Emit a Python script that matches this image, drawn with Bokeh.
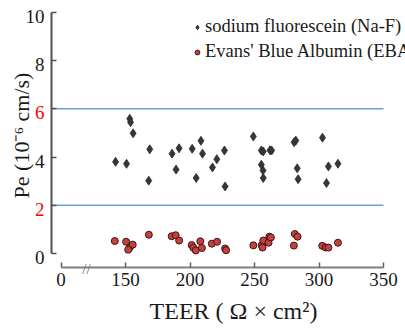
import math
from bokeh.plotting import figure
from bokeh.models import (FixedTicker, Label, LabelSet, ColumnDataSource,
                          Legend, LegendItem)
from bokeh.embed import file_html
from bokeh.resources import INLINE

# ---- data ----
naf_teer = [142.3, 150.8, 153.3, 153.9, 155.9, 168.8, 168.0, 186.1, 191.5, 189.2,
            201.7, 208.5, 209.7, 204.8, 220.8, 217.4, 226.7, 227.2, 249.1, 255.3,
            256.8, 262.0, 263.3, 255.3, 256.6, 256.8, 280.7, 282.0, 283.1, 283.8,
            302.7, 307.3, 314.7, 305.8]
naf_pe = [3.80, 3.72, 5.58, 5.44, 4.98, 4.32, 3.02, 4.14, 4.36, 3.48,
          4.34, 4.67, 4.14, 3.13, 3.91, 3.57, 4.27, 2.78, 4.85, 4.27,
          4.23, 4.28, 4.27, 3.68, 3.44, 3.13, 4.61, 4.68, 3.53, 3.08,
          4.80, 3.61, 3.72, 2.92]

eba_teer = [141.7, 150.5, 153.3, 155.6, 152.1, 168.1, 185.8, 188.9, 191.6, 201.3,
            202.6, 204.5, 208.0, 209.2, 216.9, 221.0, 227.2, 228.0, 249.1, 255.6,
            256.8, 256.2, 260.9, 261.5, 262.7, 281.3, 283.4, 280.5, 302.5, 305.2,
            307.3, 314.7]
eba_pe = [0.52, 0.49, 0.25, 0.37, 0.16, 0.78, 0.72, 0.76, 0.54, 0.35,
          0.24, 0.13, 0.51, 0.23, 0.41, 0.49, 0.21, 0.14, 0.34, 0.35,
          0.54, 0.25, 0.45, 0.70, 0.67, 0.81, 0.70, 0.33, 0.32, 0.25,
          0.25, 0.45]

threshold_lines = [6, 2]

x_tick_values = [100, 150, 200, 250, 300, 350]
x_tick_labels = ["0", "150", "200", "250", "300", "350"]
y_tick_values = [0, 2, 4, 6, 8, 10]
y_tick_labels = ["0", "2", "4", "6", "8", "10"]
y_tick_colors = ["#1a1a1a", "#ff0000", "#1a1a1a", "#ff0000", "#1a1a1a", "#1a1a1a"]

series_names = ["sodium fluorescein (Na-F)", "Evans' Blue Albumin (EBA)"]
x_title = "TEER ( \u03a9 \u00d7 cm\u00b2)"
y_title = "Pe (10\u207b\u2076 cm/s)"

SERIF = "Liberation Serif"
W, H = 405, 332

# axes positions inside the (full-canvas) frame
Y_AXIS_AT = 92.64      # x value where the y axis sits
X_AXIS_AT = -0.567     # y value where the x axis sits

p = figure(width=W, height=H, x_range=(53.1, 367.05), y_range=(-3.27, 10.484),
           min_border=0, output_backend="svg", toolbar_location=None)
p.grid.visible = False
p.outline_line_color = None
p.background_fill_color = "white"

# threshold lines (from y axis to the end of the x axis)
for t in threshold_lines:
    p.segment(x0=Y_AXIS_AT, y0=t, x1=x_tick_values[-1], y1=t,
              line_color="#6f9fd8", line_width=1.6)

# x axis
xa = p.xaxis[0]
xa.fixed_location = X_AXIS_AT
xa.ticker = FixedTicker(ticks=x_tick_values)
xa.major_label_overrides = {v: s for v, s in zip(x_tick_values, x_tick_labels)}
xa.bounds = (x_tick_values[0], x_tick_values[-1])
xa.axis_line_color = "#808080"
xa.axis_line_width = 2
xa.major_tick_line_color = "#606060"
xa.major_tick_line_width = 1.5
xa.major_tick_in = 5
xa.major_tick_out = 0
xa.minor_tick_line_color = None
xa.major_label_text_font = SERIF
xa.major_label_text_font_size = "19px"
xa.major_label_text_color = "#1a1a1a"
xa.major_label_standoff = 6

# y axis
ya = p.yaxis[0]
ya.fixed_location = Y_AXIS_AT
ya.ticker = FixedTicker(ticks=y_tick_values)
ya.bounds = (y_tick_values[0], y_tick_values[-1])
ya.axis_line_color = "#505050"
ya.axis_line_width = 2
ya.major_tick_line_color = "#505050"
ya.major_tick_line_width = 1.5
ya.major_tick_in = 5
ya.major_tick_out = 0
ya.minor_tick_line_color = None
ya.major_label_text_alpha = 0
ya.major_label_text_font_size = "19px"

ysrc = ColumnDataSource(dict(x=[Y_AXIS_AT] * len(y_tick_values), y=y_tick_values,
                             text=y_tick_labels, color=y_tick_colors))
p.add_layout(LabelSet(x="x", y="y", text="text", source=ysrc, x_offset=-7,
                      y_offset=-4, text_color="color", text_align="right",
                      text_baseline="middle", text_font=SERIF,
                      text_font_size="19px"))

# axis break marker
p.add_layout(Label(x=86, y=64, x_units="screen", y_units="screen", text="//",
                   text_align="center", text_baseline="middle", text_font=SERIF,
                   text_font_size="15px", text_color="#707070"))

# axis titles
p.add_layout(Label(x=233, y=22, x_units="screen", y_units="screen",
                   text=x_title, text_align="center", text_baseline="middle",
                   text_font=SERIF, text_font_size="24px", text_color="#1a1a1a"))
p.add_layout(Label(x=21, y=197, x_units="screen", y_units="screen",
                   text=y_title, angle=math.pi / 2, text_align="center",
                   text_baseline="middle", text_font=SERIF,
                   text_font_size="22px", text_color="#1a1a1a"))

# data
r1 = p.scatter(naf_teer, naf_pe, marker="diamond", size=9, fill_color="#363636",
               line_color="#2a2a2a", line_width=0.8)
r2 = p.scatter(eba_teer, eba_pe, marker="circle", size=7, fill_color="#c8403c",
               line_color="#3a1515", line_width=1)

legend = Legend(items=[LegendItem(label=series_names[0], renderers=[r1]),
                       LegendItem(label=series_names[1], renderers=[r2])],
                location=(191, 270), orientation="vertical",
                padding=0, margin=0, spacing=4, glyph_width=12, glyph_height=20,
                label_height=20, label_standoff=2, border_line_color=None,
                background_fill_alpha=0, label_text_font=SERIF,
                label_text_font_size="18.5px", label_text_color="#1a1a1a")
p.add_layout(legend)

open("out.html", "w").write(file_html(p, INLINE))
